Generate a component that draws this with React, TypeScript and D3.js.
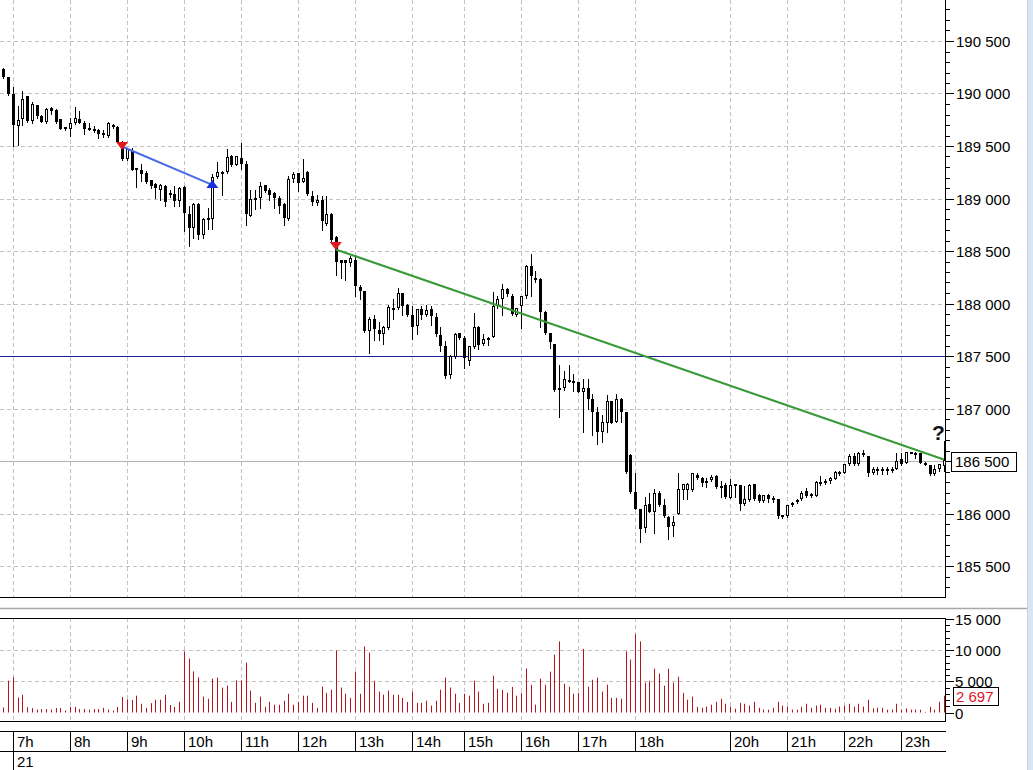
import React from "react";
import * as d3 from "d3";

// ---- 5-minute candles (index 0 = 6:50) ----
const opens = [
  190230,190155,189995,189690,189755,189975,189740,189890,189790,189730,
  189865,189845,189755,189680,189665,189715,189760,189720,189670,189665,
  189655,189625,189595,189700,189685,189520,189380,189450,189290,189275,
  189245,189175,189135,189080,189120,189035,189040,188975,189110,188855,
  188720,188945,188650,188810,188805,189205,189255,189250,189400,189320,
  189390,189330,188835,188985,189005,189125,189080,189055,189005,188950,
  188800,189185,189240,189160,189255,189025,188960,188985,188760,188855,
  188635,188410,188410,188390,188410,188160,188115,187735,187850,187745,
  187705,187770,187955,187960,188100,187990,187895,187785,187945,187895,
  187945,187875,187700,187600,187315,187490,187715,187675,187455,187590,
  187780,187610,187675,187685,187980,188040,188140,188075,187890,187980,
  188070,188355,188245,188235,187915,187715,187615,187195,187195,187270,
  187260,187255,187160,187195,187095,186965,186780,186865,187070,186875,
  187095,186965,186555,186205,186045,185865,186095,186015,186200,186085,
  185970,185885,186000,186225,186225,186225,186365,186340,186290,186320,
  186360,186260,186270,186150,186260,186275,186095,186130,186280,186175,
  186120,186175,186150,186135,185985,185975,186080,186110,186135,186215,
  186185,186165,186300,186290,186310,186330,186395,186390,186470,186550,
  186470,186575,186550,186390,186420,186410,186420,186415,186420,186520,
  186485,186585,186580,186575,186485,186460,186375,186420,186450,
];
const highs = [
  190240,190160,190060,189880,190025,189980,189915,189895,189795,189860,
  189875,189850,189760,189685,189770,189875,189835,189735,189720,189690,
  189660,189650,189725,189705,189690,189545,189485,189485,189295,189325,
  189260,189180,189150,189135,189125,189085,189120,189110,189120,188925,
  188960,188960,188815,188910,189230,189350,189265,189470,189410,189405,
  189525,189360,189080,189080,189160,189130,189100,189065,189020,188955,
  189210,189255,189245,189380,189265,189075,189035,189020,189020,188860,
  188640,188410,188410,188455,188445,188180,188115,187875,187895,187825,
  187790,187990,188040,188150,188100,188000,187975,187950,187975,187990,
  187975,187905,187780,187645,187505,187715,187715,187695,187600,187910,
  187785,187710,187680,188105,188075,188185,188150,188090,187960,188075,
  188365,188470,188310,188245,187930,187715,187615,187410,187360,187415,
  187330,187255,187280,187280,187140,187010,186940,187130,187070,187140,
  187100,186970,186565,186390,186045,186160,186200,186230,186215,186135,
  185980,185980,186385,186280,186295,186390,186385,186350,186335,186365,
  186365,186310,186295,186325,186280,186275,186260,186280,186280,186185,
  186175,186185,186165,186140,185990,186085,186110,186140,186215,186240,
  186200,186310,186360,186330,186350,186405,186405,186470,186565,186575,
  186585,186605,186550,186445,186440,186440,186440,186440,186575,186575,
  186590,186590,186585,186580,186490,186460,186460,186470,186690,
];
const lows = [
  190150,189990,189500,189510,189700,189730,189720,189770,189725,189720,
  189805,189720,189660,189655,189595,189705,189715,189615,189655,189635,
  189580,189590,189590,189670,189535,189370,189370,189270,189110,189165,
  189150,189100,189005,188990,188930,189010,188930,188925,188690,188545,
  188625,188610,188625,188705,188705,189200,189035,189245,189310,189315,
  189280,188750,188830,188900,188910,189065,188985,188910,188860,188750,
  188795,189160,189075,189160,189035,188940,188940,188700,188750,188600,
  188275,188245,188220,188360,188075,188045,187730,187530,187650,187650,
  187610,187755,187850,187945,187895,187880,187660,187705,187850,187885,
  187800,187695,187550,187295,187295,187485,187660,187385,187415,187580,
  187565,187605,187605,187685,187960,187890,188075,187890,187880,187770,
  188055,188075,188200,187780,187710,187575,187170,186915,187180,187255,
  187170,187160,186775,186995,186745,186665,186680,186780,186860,186875,
  186870,186390,186200,186040,185730,185825,186010,185815,186070,185970,
  185755,185790,186000,186140,186135,186215,186325,186260,186250,186310,
  186245,186160,186150,186150,186160,186035,186085,186120,186130,186110,
  186110,186110,186105,185960,185960,185970,186070,186100,186125,186160,
  186155,186165,186270,186280,186295,186325,186365,186385,186465,186460,
  186465,186550,186355,186375,186375,186375,186380,186395,186420,186460,
  186485,186575,186530,186480,186460,186370,186370,186405,186405,
];
const closes = [
  190155,189995,189700,189750,189950,189740,189900,189790,189730,189850,
  189835,189730,189665,189660,189715,189770,189720,189660,189665,189645,
  189610,189610,189715,189680,189540,189380,189470,189275,189275,189230,
  189155,189120,189100,189125,188965,189055,188975,189100,188860,188720,
  188945,188650,188805,188795,189205,189250,189245,189395,189320,189400,
  189330,188855,188995,189005,189120,189075,189035,189005,188930,188815,
  189190,189235,189150,189200,189045,188970,188985,188790,188855,188605,
  188400,188390,188390,188435,188170,188115,187735,187850,187755,187705,
  187780,187970,187960,188100,187975,187895,187780,187945,187895,187935,
  187885,187705,187600,187305,187500,187710,187670,187480,187595,187780,
  187605,187660,187660,187980,188040,188140,188090,187900,187960,188070,
  188355,188265,188230,187915,187715,187635,187180,187180,187280,187260,
  187255,187160,187195,187095,186965,186780,186870,187070,186860,187095,
  186965,186395,186205,186045,185855,186085,186015,186200,186085,185975,
  185875,185920,186230,186280,186280,186385,186340,186290,186310,186350,
  186255,186245,186160,186270,186280,186090,186135,186270,186135,186120,
  186175,186135,186140,185975,185970,186080,186100,186130,186195,186170,
  186170,186300,186280,186310,186340,186395,186385,186470,186550,186470,
  186575,186555,186390,186425,186410,186420,186410,186425,186500,186470,
  186585,186580,186565,186485,186470,186375,186420,186470,186505,
];
const volumes = [
  800,5100,5650,2400,2850,850,700,450,550,550,
  450,700,700,300,900,900,550,550,450,550,
  550,750,450,300,900,2500,2100,2000,2700,1400,
  750,1500,2050,2050,2850,1200,900,1700,9800,8650,
  6600,5650,2550,2200,5450,5600,4000,4300,1700,5150,
  5150,8000,3500,1550,2550,900,1700,1250,1250,1900,
  3000,1250,1700,2700,2700,1550,750,4150,3150,3650,
  9950,4000,3000,2350,6550,3000,10600,9600,5100,3350,
  2850,3500,2850,2850,2350,1700,3350,1550,1550,1900,
  1100,1900,3650,5600,4000,3000,1550,3000,2700,5100,
  3350,1400,1550,5900,3800,3600,3200,4100,2700,3150,
  7050,4450,1250,5450,4450,6550,9300,11400,4600,4150,
  3000,3150,10200,4150,5250,5600,3350,4450,2350,2350,
  2200,9800,8500,12600,11400,4800,5100,7050,6250,4300,
  7050,4800,5750,3150,2050,2550,900,750,950,1250,
  1700,2200,1400,950,600,1550,1400,1100,1700,750,
  450,450,750,1700,1100,950,450,450,900,1400,
  750,1100,1250,750,750,600,950,1100,1400,950,
  1400,950,2050,650,750,750,450,450,1400,450,
  650,450,450,450,100,900,450,1700,2697,
];

// ---- axes ----
const hourLabels = ["7h","8h","9h","10h","11h","12h","13h","14h","15h","16h","17h","18h","20h","21h","22h","23h"];
const hourIndex = [2,14,26,38,50,62,74,86,97,109,121,133,153,165,177,189];
const dayLabel = "21";
const priceTicks = [185500,186000,186500,187000,187500,188000,188500,189000,189500,190000,190500];
const volumeTicks = [0,5000,10000,15000];

// ---- annotations ----
const signalIndex = [25, 44, 70];
const signalPrice = [189500, 189138, 188548];
const signalDir = ["down", "up", "down"];
const blueTrend = [{ i: 25, p: 189495 }, { i: 44, p: 189130 }];
const greenTrend = [{ i: 70, p: 188515 }, { i: 198, p: 186515 }];
const levelPrice = 187500;
const lastPrice = 186500;
const lastVolume = 2697;

const FONT = "'Liberation Sans', Arial, sans-serif";

export default function App() {
  const n = closes.length;
  const x = d3.scaleLinear().domain([0, 198]).range([3.3, 3.3 + 4.75 * 198]);
  const y = d3.scaleLinear().domain([185500, 190500]).range([566, 41]);
  const yv = d3.scaleLinear().domain([0, 15000]).range([712.5, 619]);
  const fmt = d3
    .formatLocale({ decimal: ".", thousands: " ", grouping: [3], currency: ["", ""] })
    .format(",");
  const cx = (i: number) => Math.round(x(i));
  const cy = (p: number) => Math.round(y(p));

  const R = 945; // right edge of plot
  const MB = 597; // main bottom
  const VT = 618; // volume top
  const VB = 721; // volume bottom
  const gridColor = "#c2c2c2";
  const dash = "4,3";

  const minorPrice = d3.range(185300, 190900, 100);
  const minorVol = d3.range(0, 15001, 1000);

  const trendLine = d3
    .line<{ i: number; p: number }>()
    .x((d) => x(d.i))
    .y((d) => y(d.p));

  return (
    <svg
      width={1033}
      height={770}
      style={{ position: "absolute", left: 0, top: 0, background: "#fff" }}
      fontFamily={FONT}
    >
      <rect x={0} y={0} width={1033} height={770} fill="#fff" />
      {/* light strip at right */}
      <rect x={1027} y={0} width={6} height={770} fill="#d9e5f2" />
      <line x1={1027.5} y1={0} x2={1027.5} y2={770} stroke="#c5d3e3" />

      {/* ===== main grid ===== */}
      {priceTicks.map((p) => (
        <line key={"hg" + p} x1={0} x2={R} y1={cy(p) + 0.5} y2={cy(p) + 0.5}
          stroke={gridColor} strokeDasharray={dash} />
      ))}
      {hourIndex.map((i) => (
        <line key={"vg" + i} x1={cx(i) + 0.5} x2={cx(i) + 0.5} y1={0} y2={MB}
          stroke={gridColor} strokeDasharray={dash} />
      ))}

      {/* level lines */}
      <line x1={0} x2={R} y1={cy(levelPrice) + 0.5} y2={cy(levelPrice) + 0.5} stroke="#1c1c9c" />
      <line x1={0} x2={R} y1={cy(lastPrice) + 0.5} y2={cy(lastPrice) + 0.5} stroke="#b4b4b4" />

      {/* candles */}
      {d3.range(n).map((i) => {
        const o = opens[i], c = closes[i], h = highs[i], l = lows[i];
        const X = cx(i);
        const top = cy(Math.max(o, c));
        const bot = cy(Math.min(o, c));
        const bull = c >= o;
        const bh = Math.max(bot - top, 1);
        return (
          <g key={"c" + i}>
            <line x1={X + 0.5} x2={X + 0.5} y1={cy(h)} y2={cy(l) + 1} stroke="#000" />
            {bull && bh > 2 ? (
              <rect x={X - 0.5} y={top + 0.5} width={2} height={bh - 1} fill="#fff" stroke="#000" />
            ) : (
              <rect x={X - 1} y={top} width={3} height={Math.max(bh, 2)} fill="#000" />
            )}
          </g>
        );
      })}

      {/* trend lines */}
      <path d={trendLine(blueTrend) || ""} stroke="#4a6be6" strokeWidth={2} fill="none" />
      <path d={trendLine(greenTrend) || ""} stroke="#3a9a3a" strokeWidth={2.2} fill="none" />

      {/* signals */}
      {signalIndex.map((i, k) => {
        const X = x(i);
        const Y = y(signalPrice[k]);
        const d =
          signalDir[k] === "down"
            ? `M${X - 6},${Y - 4} L${X + 6},${Y - 4} L${X},${Y + 4} Z`
            : `M${X - 6},${Y + 4} L${X + 6},${Y + 4} L${X},${Y - 4} Z`;
        return <path key={"s" + k} d={d} fill={signalDir[k] === "down" ? "#e3171c" : "#1430e0"} />;
      })}

      {/* question mark */}
      <text x={932} y={440} fontSize={21} fontWeight="bold" fill="#111">?</text>

      {/* main frame */}
      <line x1={R + 0.5} x2={R + 0.5} y1={0} y2={MB + 1} stroke="#000" />
      <line x1={0} x2={R + 1} y1={MB + 0.5} y2={MB + 0.5} stroke="#000" />

      {/* price axis ticks & labels */}
      {minorPrice.map((p) => (
        <line key={"mt" + p} x1={R + 1} x2={R + (p % 500 === 0 ? 9 : 5)}
          y1={cy(p) + 0.5} y2={cy(p) + 0.5} stroke="#000" />
      ))}
      {priceTicks.filter((p) => p !== lastPrice).map((p) => (
        <text key={"pl" + p} x={956} y={cy(p) + 5.5} fontSize={15} fill="#000">{fmt(p)}</text>
      ))}
      <rect x={951.5} y={cy(lastPrice) - 8.5} width={65} height={19} fill="#fff" stroke="#000" />
      <text x={955} y={cy(lastPrice) + 6} fontSize={15} fill="#000">{fmt(lastPrice)}</text>

      {/* separator */}
      <line x1={0} x2={1027} y1={608.5} y2={608.5} stroke="#a8a8a8" strokeWidth={1.5} />

      {/* ===== volume panel ===== */}
      {volumeTicks.filter((v) => v > 0 && v < 15000).map((v) => (
        <line key={"vh" + v} x1={0} x2={R} y1={Math.round(yv(v)) + 0.5} y2={Math.round(yv(v)) + 0.5}
          stroke={gridColor} strokeDasharray={dash} />
      ))}
      {hourIndex.map((i) => (
        <line key={"vv" + i} x1={cx(i) + 0.5} x2={cx(i) + 0.5} y1={VT} y2={VB}
          stroke={gridColor} strokeDasharray={dash} />
      ))}
      {volumes.map((v, i) => (
        <line key={"v" + i} x1={cx(i) + 0.5} x2={cx(i) + 0.5} y1={yv(0)} y2={yv(v)}
          stroke="#b4141c" />
      ))}
      <rect x={-1} y={VT + 0.5} width={R + 1.5} height={VB - VT} fill="none" stroke="#000" />
      {minorVol.map((v) => (
        <line key={"vt" + v} x1={R + 1} x2={R + (v % 5000 === 0 ? 9 : 5)}
          y1={Math.round(yv(v)) + 0.5} y2={Math.round(yv(v)) + 0.5} stroke="#000" />
      ))}
      {volumeTicks.map((v) => (
        <text key={"vl" + v} x={955} y={Math.round(yv(v)) + 5.5} fontSize={15} fill="#000">{fmt(v)}</text>
      ))}
      <rect x={953.5} y={Math.round(yv(lastVolume)) - 8.5} width={45} height={18} fill="#fff" stroke="#000" />
      <text x={956} y={Math.round(yv(lastVolume)) + 6} fontSize={15} fill="#e0141e">{fmt(lastVolume)}</text>

      {/* ===== time axis ===== */}
      <line x1={0} x2={R + 1} y1={731.5} y2={731.5} stroke="#000" />
      <line x1={0} x2={R + 1} y1={751.5} y2={751.5} stroke="#000" />
      {hourIndex.map((i, k) => (
        <g key={"t" + i}>
          <line x1={cx(i) + 0.5} x2={cx(i) + 0.5} y1={731} y2={752} stroke="#000" />
          <text x={cx(i) + 4} y={747} fontSize={15} fill="#000">{hourLabels[k]}</text>
        </g>
      ))}
      <line x1={cx(hourIndex[0]) + 0.5} x2={cx(hourIndex[0]) + 0.5} y1={751} y2={770} stroke="#000" />
      <text x={cx(hourIndex[0]) + 4} y={767} fontSize={15} fill="#000">{dayLabel}</text>
    </svg>
  );
}
